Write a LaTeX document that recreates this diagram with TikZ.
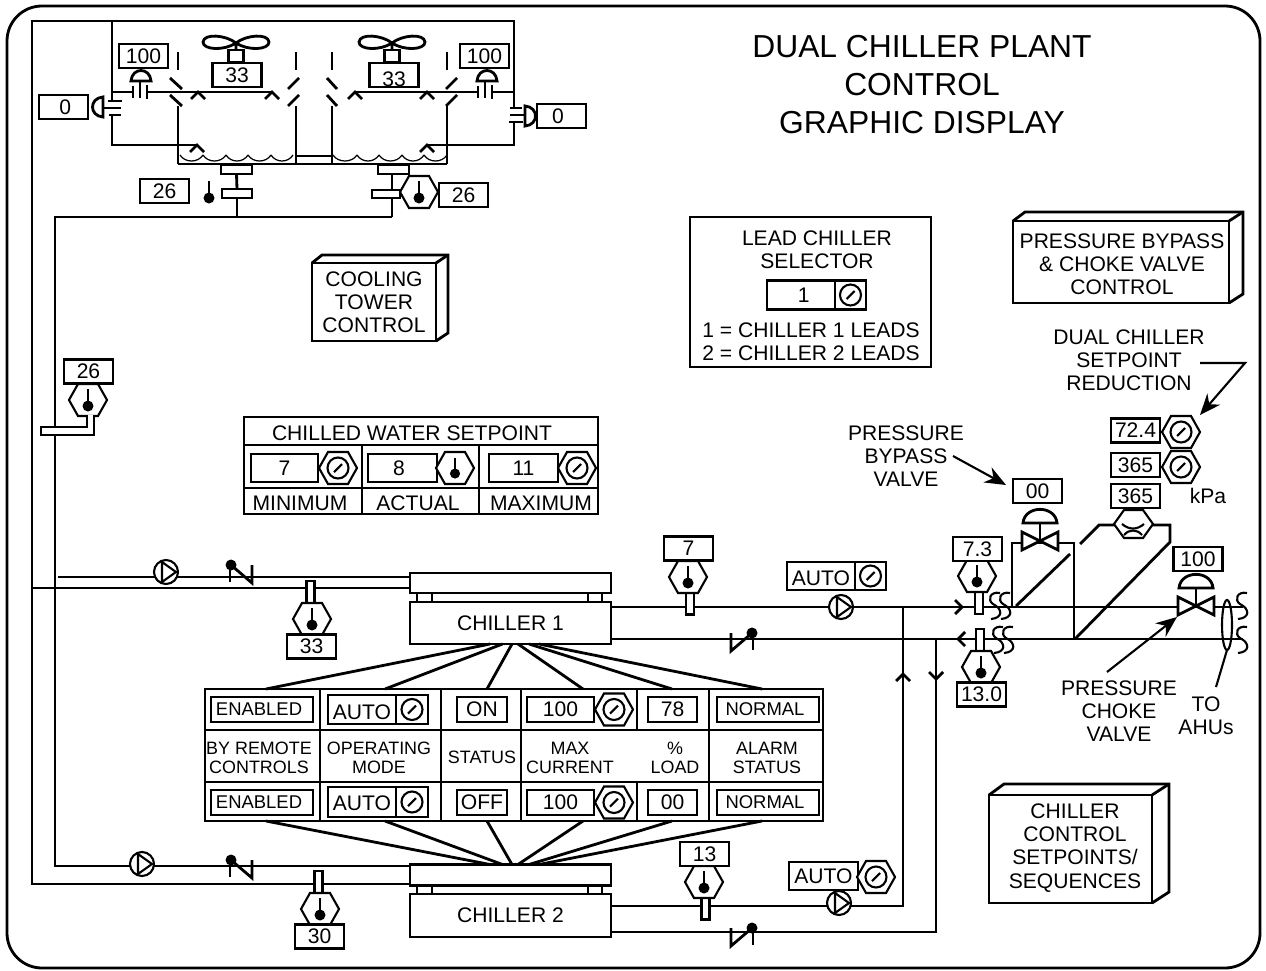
\documentclass[tikz,border=0pt]{standalone}
\usepackage{fontspec}
\setmainfont{Liberation Sans}
\usetikzlibrary{shapes.geometric, arrows.meta, positioning, calc, backgrounds}

\newcommand{\drawdepth}[3]{%
	\draw [pipe] (#1.north west) -- +(#2-2,#3) -- ($(#1.north east)+(#2,#3)$) -- ($(#1.south east)+(#2,#3)$) -- (#1.south east);
	\draw [pipe] (#1.north east) -- +(#2,#3);
}

\begin{document}
\begin{tikzpicture}[x=0.02cm, y=-0.02cm, >={Stealth[length=0.42cm, width=0.34cm]}]
	\tikzset{
		pipe/.style={line width=1.6pt},
		thin line/.style={line width=1.2pt},
		boxsize/.style 2 args={minimum width=#1*0.02cm, minimum height=#2*0.02cm},
		valbox/.style={draw, pipe, fill=white, inner sep=0pt, outer sep=0pt, boxsize={49}{24}, font=\fontsize{12}{13}\selectfont},
		smallbox/.style={valbox, font=\fontsize{10.5}{11}\selectfont},
		wellbox/.style={draw, pipe, fill=white, inner sep=0pt, outer sep=0pt, boxsize={8}{22}},
		chillerbox/.style={draw, pipe, inner sep=0pt, outer sep=0pt, boxsize={201}{42}, font=\fontsize{12}{13}\selectfont},
		textlabel/.style={align=center, inner sep=0pt, font=\fontsize{12}{13.2}\selectfont},
		smalllabel/.style={align=center, inner sep=0pt, font=\fontsize{10.2}{10.8}\selectfont},
		hexagon/.pic={\draw [thin line, fill=white] (-19,0) -- (-10,-16) -- (10,-16) -- (19,0) -- (10,16) -- (-10,16) -- cycle;},
		hextemp/.pic={
			\pic {hexagon};
			\draw [pipe] (0,-11) -- (0,6);
			\fill (0,6) circle (5.5);
		},
		dial/.pic={
			\draw [thin line] (0,0) circle (10.5);
			\draw [thin line] (-4,4) -- (4,-4);
		},
		hexdial/.pic={\pic {hexagon}; \pic {dial};},
		pump/.pic={
			\draw [thin line, fill=white] (0,0) circle (12);
			\draw [thin line] (-4,-10) -- (10,0) -- (-4,10) -- cycle;
		},
		checkv/.pic={
			\fill (0,0) circle (5.5);
			\draw [pipe] (-1,0) -- (-1,17);
			\draw [pipe] (0,0) -- (21,18) -- (21,0);
		},
		chevron/.pic={\draw [pipe] (-7,7) -- (0,0) -- (7,7);},
		dome/.pic={\draw [pipe, fill=white] (-10,0) .. controls (-9,-14) and (9,-14) .. (10,0) -- cycle;},
		threebar/.pic={
			\draw [pipe] (-7,-6) -- (-7,6);
			\draw [pipe] (0,-11) -- (0,6);
			\draw [pipe] (7,-7) -- (7,7);
		},
		ctlvalve/.pic={
			\draw [pipe] (0,0) -- (0,-18);
			\pic [xscale=1.7, yscale=1.3] at (0,-18) {dome};
			\draw [pipe, fill=white] (-18,-9) -- (18,9) -- (18,-9) -- (-18,9) -- cycle;
		},
		fan/.pic={
			\draw [pipe] (0,0) .. controls (-10,-8) and (-32,-10) .. (-33,-1) .. controls (-33,7) and (-12,8) .. (0,0)
				.. controls (10,-8) and (32,-10) .. (33,-1) .. controls (33,7) and (12,8) .. (0,0) -- (0,7);
			\draw [pipe, fill=white] (-7.5,7) rectangle (7.5,19);
		},
		sbreak/.pic={\draw [thin line] (5,-13) .. controls (-5,-15) and (-8,-6) .. (-2,-2) .. controls (8,3) and (8,12) .. (-4,13);}
	}
	\useasboundingbox (0,0) rectangle (1266,970);

	% --- Marco y titulo ---
	\draw [pipe, rounded corners=0.7cm] (7,6) rectangle (1260,968);
	\node [align=center, inner sep=0pt, font=\fontsize{18.1}{21.6}\selectfont] (title) at (922,85) {DUAL CHILLER PLANT\\ CONTROL\\ GRAPHIC DISPLAY};

	% --- Torres de enfriamiento ---
	\foreach \wx/\xa/\xb in {178/170/182, 296/299/288, 332/327/337, 447/457/446} {
		\draw [pipe] (\wx,52) -- (\wx,70);
		\draw [pipe] (\wx,106) -- (\wx,164);
		\draw [pipe] (\xa,78) -- (\xb,89);
		\draw [pipe] (\xa,95) -- (\xb,106);
	}
	\draw [pipe] (178,164) -- (447,164);
	\draw [pipe] (296,156) -- (332,156);
	\foreach \xa/\xb in {180/203, 203/226, 226/248, 248/271, 271/293, 333/357, 357/379, 379/402, 402/424, 424/447} {
		\draw [line width=0.7pt] (\xa,155) .. controls (\xa+5,163) and (\xb-5,163) .. (\xb,155);
	}
	\pic at (236,43) {fan};
	\pic at (392,43) {fan};
	\node [valbox] (fan1val) at (237,75) {33};
	\node [valbox] (fan2val) at (394,75) {\rule{0pt}{13.2pt}33};

	\node [valbox] (dmp1val) at (143.5,56) {100};
	\node [valbox] (dmp2val) at (484.5,56) {100};
	\node [valbox] (byp1val) at (63.5,107) {\hspace{2pt}0};
	\node [valbox] (byp2val) at (561.5,116) {\hspace{-4pt}0};
	\pic at (140,92) {threebar};
	\pic at (485,92) {threebar};
	\pic [rotate=90] at (115,108) {threebar};
	\pic [rotate=-90] at (516,115) {threebar};
	\pic at (141,81) {dome};
	\pic at (487,81) {dome};
	\pic [rotate=90] at (103,107) {dome};
	\pic [rotate=-90] at (525,116) {dome};
	\foreach \cx/\cy in {198/92, 272/92, 355/92, 427/92, 197/145, 427/145} {
		\pic at (\cx,\cy) {chevron};
	}

	% --- Sumideros ---
	\node [wellbox, boxsize={31}{9}] (sump1) at (236.5,169.5) {};
	\node [wellbox, boxsize={31}{9}] (sump2) at (393.5,169.5) {};
	\node [wellbox, boxsize={30}{9}] (mid1) at (237,193.5) {};
	\node [wellbox, boxsize={28}{8}] (mid2) at (386,194) {};
	\node [valbox] (cws1val) at (164.5,191) {26};
	\node [valbox] (cws2val) at (463.5,195) {26};
	\draw [pipe] (209,181) -- (209,198);
	\fill (209,198) circle (5.5);
	\pic at (419,192) {hextemp};

	% --- Sensores de temperatura ---
	\node [valbox] (cwrval) at (88.5,371.5) {26};
	\pic at (88,400) {hextemp};
	\draw [pipe, fill=white] (87,415) -- (87,427) -- (41,427) -- (41,435) -- (94,435) -- (94,415);

	\node [wellbox] (well33) at (310.5,592) {};
	\pic at (312,619) {hextemp};
	\node [valbox] (ch1ret) at (311.5,646.5) {33};
	\node [wellbox] (well30) at (318.5,882) {};
	\pic at (320,909) {hextemp};
	\node [valbox] (ch2ret) at (319.5,936.5) {30};
	\node [wellbox] (well7) at (690,603.5) {};
	\pic at (688,577) {hextemp};
	\node [valbox] (ch1sup) at (688.5,548.5) {7};
	\node [wellbox] (well13) at (705.5,908.5) {};
	\pic at (704,882) {hextemp};
	\node [valbox] (ch2sup) at (704.5,854) {13};
	\node [wellbox] (wellsup) at (979,603) {};
	\pic at (977,576) {hextemp};
	\node [valbox] (supval) at (977.5,549) {7.3};
	\node [wellbox] (wellret) at (980,640) {};
	\pic at (981,667) {hextemp};
	\node [valbox] (retval) at (981.5,694.5) {13.0};

	% --- Cajas de control ---
	\node [draw, pipe, textlabel, boxsize={124}{78}, outer sep=0pt] (towerctl) at (374,302) {COOLING\\ TOWER\\ CONTROL};
	\drawdepth{towerctl}{12}{-8}
	\node [draw, pipe, boxsize={216}{82}, outer sep=0pt] (bypassctl) at (1121,262) {};
	\node [textlabel] (bypasscap) at (1122,264) {PRESSURE BYPASS\\ \& CHOKE VALVE\\ CONTROL};
	\drawdepth{bypassctl}{14}{-9}
	\node [draw, pipe, boxsize={163}{108}, outer sep=0pt] (chillerctl) at (1070.5,849) {};
	\node [textlabel] (chillertxt) at (1075,848) {CHILLER\\ CONTROL\\ SETPOINTS/\\ SEQUENCES};
	\drawdepth{chillerctl}{17}{-11}

	% --- Selector de enfriador lider ---
	\node [draw, pipe, boxsize={241}{150}, outer sep=0pt] (leadbox) at (810.5,292) {};
	\node [textlabel] (leadtitle) at (817,249.5) {LEAD CHILLER\\ SELECTOR};
	\node [valbox, boxsize={68}{29}] (leadval) at (801,295) {\hspace{3pt}1};
	\node [valbox, boxsize={31}{29}, right=0pt of leadval] (leaddial) {};
	\pic at (leaddial.center) {dial};
	\node [textlabel] (leadnote) at (811,342) {1 = CHILLER 1 LEADS\\ 2 = CHILLER 2 LEADS};

	% --- Consigna de agua helada ---
	\node [draw, pipe, boxsize={354}{97}, outer sep=0pt] (cwtable) at (421,465.5) {};
	\draw [pipe] ($(cwtable.north west)+(0,28)$) -- ($(cwtable.north east)+(0,28)$);
	\draw [pipe] ($(cwtable.north west)+(0,71)$) -- ($(cwtable.north east)+(0,71)$);
	\draw [pipe] ($(cwtable.north west)+(118,28)$) -- ($(cwtable.south west)+(118,0)$);
	\draw [pipe] ($(cwtable.north west)+(235,28)$) -- ($(cwtable.south west)+(235,0)$);
	\node [textlabel] (cwtitle) at (412,433) {CHILLED WATER SETPOINT};
	\node [valbox, boxsize={67}{28}] (cwmin) at (284.5,468) {7};
	\node [valbox, boxsize={69}{28}] (cwact) at (402.5,468) {\hspace{-4pt}8};
	\node [valbox, boxsize={69}{28}] (cwmax) at (523.5,468) {11};
	\pic [scale=0.92] at (338,468) {hexdial};
	\pic [scale=0.92] at (455,468) {hextemp};
	\pic [scale=0.92] at (577,468) {hexdial};
	\node [textlabel] (cwminl) at (300,503) {MINIMUM};
	\node [textlabel] (cwactl) at (418,503) {ACTUAL};
	\node [textlabel] (cwmaxl) at (541,503) {MAXIMUM};

	% --- Enfriadores ---
	\node [chillerbox, boxsize={201}{20}] (chiller1head) at (510.5,583) {};
	\node [chillerbox] (chiller1) at (510.5,623) {CHILLER 1};
	\node [chillerbox, boxsize={201}{21}] (chiller2head) at (510.5,875) {};
	\node [chillerbox, boxsize={201}{43}] (chiller2) at (510.5,915.5) {CHILLER 2};
	\foreach \ch in {1,2} {
		\draw [pipe] ($(chiller\ch head.south west)+(7,0)$) rectangle ($(chiller\ch.north west)+(22,0)$);
		\draw [pipe] ($(chiller\ch head.south east)+(-23,0)$) rectangle ($(chiller\ch.north east)+(-9,0)$);
	}

	% --- Tabla de estado ---
	\node [draw, pipe, boxsize={618}{132}, outer sep=0pt] (statustable) at (514,755) {};
	\draw [pipe] ($(statustable.north west)+(0,41)$) -- ($(statustable.north east)+(0,41)$);
	\draw [pipe] ($(statustable.north west)+(0,93)$) -- ($(statustable.north east)+(0,93)$);
	\foreach \cx in {115, 236, 316, 504} {
		\draw [pipe] ($(statustable.north west)+(\cx,0)$) -- ($(statustable.south west)+(\cx,0)$);
	}
	\draw [pipe] ($(statustable.north west)+(432,0)$) -- ($(statustable.north west)+(432,41)$);
	\draw [pipe] ($(statustable.north west)+(432,93)$) -- ($(statustable.south west)+(432,0)$);
	\foreach \a/\b in {-20.5/-248, -8/-129, 1.5/-27, 7.5/69, 18.5/158, 28.5/248} {
		\draw [pipe] ($(chiller1.south)+(\a,0)$) -- ($(statustable.north)+(\b,0)$);
		\draw [pipe] ($(chiller2head.north)+(\a,0)$) -- ($(statustable.south)+(\b,0)$);
	}
	% fila superior
	\node [smallbox, boxsize={102}{25}] (en1) at (262,709.5) {\hspace{-3.4pt}ENABLED};
	\node [valbox, boxsize={68}{29}] (auto1) at (362,709.5) {\rule{0pt}{11.4pt}AUTO};
	\node [valbox, boxsize={32}{29}, right=0pt of auto1] (auto1d) {};
	\pic at (auto1d.center) {dial};
	\node [valbox, boxsize={50}{25}] (on1) at (482,709.5) {ON};
	\node [valbox, boxsize={67}{25}] (cur1) at (560.5,709.5) {100};
	\pic at (614,709.5) {hexdial};
	\node [valbox, boxsize={49}{25}] (load1) at (672.5,709.5) {78};
	\node [smallbox, boxsize={102}{25}] (alm1) at (768,709.5) {\hspace{-3.4pt}NORMAL};
	% rotulos
	\node [smalllabel] (remotel) at (259,757.5) {BY REMOTE\\ CONTROLS};
	\node [smalllabel] (model) at (379,757.5) {OPERATING\\ MODE};
	\node [smalllabel] (statl) at (482,757) {STATUS};
	\node [smalllabel] (curl) at (570,757.5) {MAX\\ CURRENT};
	\node [smalllabel] (loadl) at (675,757.5) {\%\\ LOAD};
	\node [smalllabel] (alml) at (767,757.5) {ALARM\\ STATUS};
	% fila inferior
	\node [smallbox, boxsize={102}{25}] (en2) at (262,802.5) {\hspace{-3.4pt}ENABLED};
	\node [valbox, boxsize={68}{30}] (auto2) at (362,802) {\rule{0pt}{9.8pt}AUTO};
	\node [valbox, boxsize={32}{30}, right=0pt of auto2] (auto2d) {};
	\pic at (auto2d.center) {dial};
	\node [valbox, boxsize={50}{25}] (off2) at (482,802.5) {OFF};
	\node [valbox, boxsize={67}{25}] (cur2) at (560.5,802.5) {100};
	\pic at (614,802.5) {hexdial};
	\node [valbox, boxsize={49}{25}] (load2) at (672.5,802.5) {00};
	\node [smallbox, boxsize={102}{25}] (alm2) at (768,802.5) {\hspace{-3.4pt}NORMAL};

	% --- Bombas y retenciones ---
	\pic at (166,572) {pump};
	\pic at (142,864) {pump};
	\pic at (841,607) {pump};
	\pic at (839,903) {pump};
	\pic at (231,565) {checkv};
	\pic at (231,860) {checkv};
	\pic [xscale=-1] at (752,633) {checkv};
	\pic [xscale=-1] at (752,928) {checkv};
	\node [valbox, boxsize={68}{28}] (pump1auto) at (821,576) {\rule{0pt}{10.8pt}AUTO};
	\node [valbox, boxsize={31}{28}, right=0pt of pump1auto] (pump1dial) {};
	\pic at (pump1dial.center) {dial};
	\node [valbox, boxsize={69}{28}] (pump2auto) at (823.5,876) {AUTO};
	\pic at (876,877) {hexdial};
	\pic at (903,674) {chevron};
	\pic [rotate=180] at (936,679) {chevron};
	\pic [rotate=-90] at (962,607) {chevron};
	\pic [rotate=90] at (958,639) {chevron};

	% --- Valvulas de bypass y estrangulamiento ---
	\node [valbox] (bypval) at (1037.5,491) {00};
	\pic at (1040,541) {ctlvalve};
	\node [valbox] (chokeval) at (1198,559) {100};
	\pic at (1196,606) {ctlvalve};
	\node [valbox] (dpval) at (1135.5,496) {365};
	\node [valbox] (dpset) at (1135.5,465) {365};
	\node [valbox] (dpred) at (1135.5,430.5) {72.4};
	\pic at (1181,467) {hexdial};
	\pic at (1181,432) {hexdial};
	\draw [thin line, fill=white] (1114,524) -- (1124,510) -- (1143,510) -- (1153,524) -- (1143,538) -- (1124,538) -- cycle;
	\draw [thin line] (1122,524) .. controls (1129,530) and (1137,530) .. (1144,524);
	\draw [thin line] (1124,535) .. controls (1129,529) and (1137,529) .. (1142,535);
	\node [textlabel] (kpa) at (1208,495.5) {kPa};
	\foreach \bx/\by in {995/606, 1005/606, 998/640, 1008/640, 1242/606, 1242/640} {
		\pic at (\bx,\by) {sbreak};
	}
	\node [draw, ellipse, thin line, inner sep=0pt, outer sep=0pt, boxsize={10}{50}] (ahuring) at (1227,625) {};

	% --- Rotulos ---
	\node [textlabel] (bypasstxt) at (906,456) {PRESSURE\\ BYPASS\\ VALVE};
	\node [textlabel] (reducetxt) at (1129,360.5) {DUAL CHILLER\\ SETPOINT\\ REDUCTION};
	\node [textlabel] (choketxt) at (1119,711) {PRESSURE\\ CHOKE\\ VALVE};
	\node [textlabel] (ahutxt) at (1206,716) {TO\\ AHUs};
	\coordinate (bypass_a) at (953,456);
	\coordinate (bypass_b) at (1006,485);
	\coordinate (choke_a) at (1107,672);
	\coordinate (choke_b) at (1177,617);
	\coordinate (reduce_a) at (1200,363);
	\coordinate (reduce_m) at (1245,363);
	\coordinate (reduce_b) at (1200,415);
	\coordinate (ahu_a) at (1216,687);
	\draw [thin line, ->] (bypass_a) -- (bypass_b);
	\draw [thin line, ->] (choke_a) -- (choke_b);
	\draw [thin line, ->] (reduce_a) -- (reduce_m) -- (reduce_b);
	\draw [thin line] (ahuring.south) -- (ahu_a);

	% --- Tuberias (detras de los simbolos) ---
	\begin{scope}[on background layer]
		\coordinate (cond_nw) at (32,21);
		\coordinate (cond_ne) at (514,21);
		\coordinate (cw_top_l) at (55,217);
		\coordinate (cw_top_r) at (392,217);
		\coordinate (sup_end) at (1243,607);
		\coordinate (ret_end) at (1243,639);
		\coordinate (riser_s) at (903,607);
		\coordinate (riser_r) at (936,639);

		% condensador
		\draw [pipe] ($(chiller2head.west)+(0,9)$) -| (cond_nw) -- (cond_ne) -- (514,108);
		\draw [pipe] (514,122) |- (427,145);
		\draw [pipe] (32,588) -- ($(chiller1head.west)+(0,5)$);
		\draw [pipe] (112,21) -- (112,100);
		\draw [pipe] (112,116) |- (197,145);
		\draw [pipe] (112,92) -- (133,92);
		\draw [pipe] (147,92) -- (272,92);
		\draw [pipe] (355,92) -- (478,92);
		\draw [pipe] (492,92) -- (514,92);

		% torre hacia enfriadores
		\draw [pipe] (sump1.south) -- (mid1.north);
		\draw [pipe] (mid1.south) -- (mid1.south |- cw_top_l);
		\draw [pipe] (sump2.south -| cw_top_r) -- (cw_top_r);
		\draw [pipe] (cw_top_r) -- (cw_top_l) |- ($(chiller2head.west)+(0,-9)$);
		\draw [pipe] (58,577) -- ($(chiller1head.west)+(0,-6)$);

		% agua helada
		\draw [pipe] ($(chiller1.east)+(0,-16)$) -- (sup_end);
		\draw [pipe] ($(chiller1.east)+(0,16)$) -- (ret_end);
		\draw [pipe] ($(chiller2.east)+(0,-9.5)$) -| (riser_s);
		\draw [pipe] ($(chiller2.east)+(0,16.5)$) -| (riser_r);

		% bypass
		\draw [pipe] (1012,607) |- (1074,543) -- (1074,640);
		\draw [pipe] (1016,606) -- (1070,554);
		\draw [pipe] (1080,544) -- (1099,525) -- (1170,525) -- (1170,542) -- (1075,639);
	\end{scope}
\end{tikzpicture}
\end{document}
